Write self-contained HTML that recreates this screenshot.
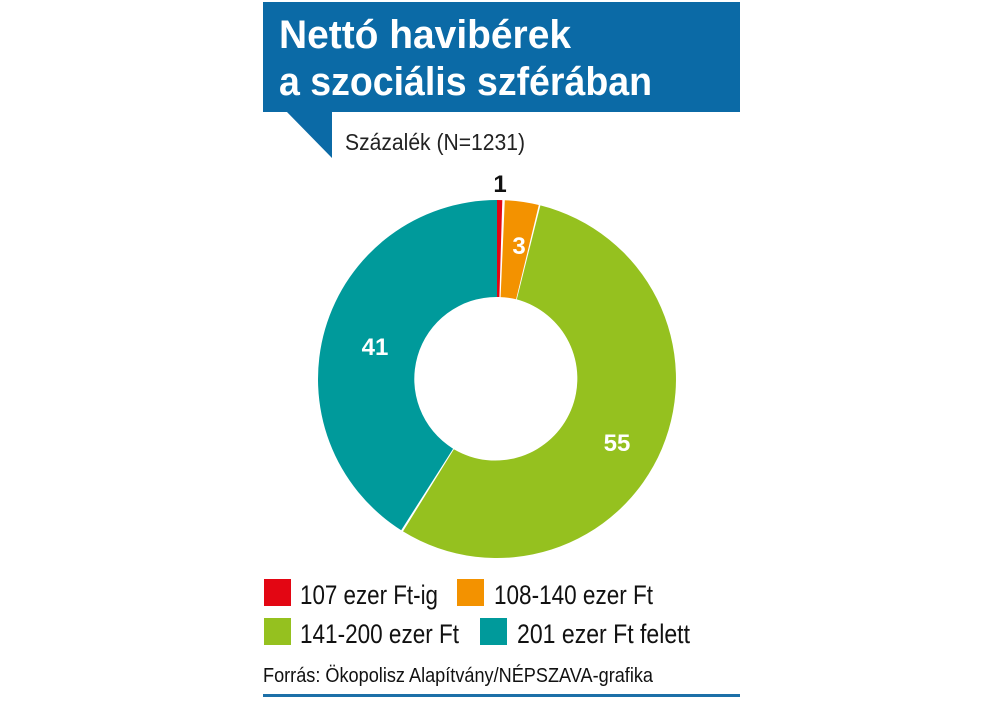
<!DOCTYPE html>
<html><head><meta charset="utf-8"><style>html,body{margin:0;padding:0;background:#fff}svg{display:block}</style></head>
<body>
<svg width="1000" height="702" viewBox="0 0 1000 702" xmlns="http://www.w3.org/2000/svg" font-family="'Liberation Sans Narrow','Liberation Sans',sans-serif">
<rect x="263" y="2" width="477" height="110" fill="#0b6aa6"/>
<polygon points="286,111 332,111 332,158" fill="#0b6aa6"/>
<text x="279" y="48" font-size="40" font-weight="bold" fill="#fff" textLength="292" lengthAdjust="spacingAndGlyphs">Nettó havibérek</text>
<text x="279" y="95" font-size="40" font-weight="bold" fill="#fff" textLength="373" lengthAdjust="spacingAndGlyphs">a szociális szférában</text>
<text x="345" y="150" font-size="23" fill="#222" textLength="180" lengthAdjust="spacingAndGlyphs">Százalék (N=1231)</text>
<path d="M497.0,200.0 A179,179 0 0,1 502.3,200.1 L499.4,297.0 A82,82 0 0,0 497.0,297.0 Z" fill="#e30613"/>
<path d="M504.8,200.2 A179,179 0 0,1 538.8,205.0 L516.1,299.3 A82,82 0 0,0 500.6,297.1 Z" fill="#f39200"/>
<path d="M540.4,205.4 A179,179 0 1,1 403.0,531.4 L453.9,449.3 A82,82 0 1,0 516.8,299.4 Z" fill="#95c11f"/>
<path d="M401.2,530.2 A179,179 0 0,1 497.0,200.0 L497.0,297.0 A82,82 0 0,0 453.1,448.7 Z" fill="#009a9b"/>
<text x="500" y="192" font-size="24" font-weight="bold" fill="#111" text-anchor="middle">1</text>
<text x="519" y="254" font-size="24" font-weight="bold" fill="#fff" text-anchor="middle">3</text>
<text x="617" y="451" font-size="24" font-weight="bold" fill="#fff" text-anchor="middle">55</text>
<text x="375" y="355" font-size="24" font-weight="bold" fill="#fff" text-anchor="middle">41</text>
<rect x="264" y="579" width="27" height="27" fill="#e30613"/>
<text x="300" y="604" font-size="27" fill="#111" textLength="138" lengthAdjust="spacingAndGlyphs">107 ezer Ft-ig</text>
<rect x="457" y="579" width="27" height="27" fill="#f39200"/>
<text x="494" y="604" font-size="27" fill="#111" textLength="159" lengthAdjust="spacingAndGlyphs">108-140 ezer Ft</text>
<rect x="264" y="618" width="27" height="27" fill="#95c11f"/>
<text x="300" y="643" font-size="27" fill="#111" textLength="159" lengthAdjust="spacingAndGlyphs">141-200 ezer Ft</text>
<rect x="480" y="618" width="27" height="27" fill="#009a9b"/>
<text x="517" y="643" font-size="27" fill="#111" textLength="173" lengthAdjust="spacingAndGlyphs">201 ezer Ft felett</text>
<text x="263" y="682" font-size="20" fill="#111" textLength="390" lengthAdjust="spacingAndGlyphs">Forrás: Ökopolisz Alapítvány/NÉPSZAVA-grafika</text>
<rect x="263" y="694" width="477" height="3" fill="#1d70a8"/>
</svg>
</body></html>
